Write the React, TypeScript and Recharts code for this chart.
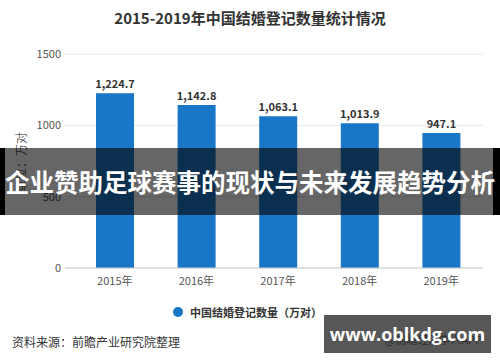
import React from 'react';
import { BarChart, Bar, XAxis, YAxis, CartesianGrid, LabelList } from 'recharts';

const years = ['2015年', '2016年', '2017年', '2018年', '2019年'];
const marriages = [1224.7, 1142.8, 1063.1, 1013.9, 947.1];
const yTicks = [0, 500, 1000, 1500];

const chartTitle = '2015-2019年中国结婚登记数量统计情况';
const seriesName = '中国结婚登记数量（万对）';
const unitLabel = '单位：万对';
const sourceText = '资料来源：前瞻产业研究院整理';
const creditText = '@前瞻经济学人APP';
const bannerText = '企业赞助足球赛事的现状与未来发展趋势分析';
const watermarkText = 'www.oblkdg.com';

const data = years.map((y, i) => ({ year: y, value: marriages[i] }));

const FONT = '"Noto Sans CJK SC", "Noto Sans", sans-serif';
const BLUE = '#1a76c6';

const fmt = (v: number) =>
  v.toLocaleString('en-US', { minimumFractionDigits: 1, maximumFractionDigits: 1 });

export default function App() {
  return (
    <div style={{ position: 'fixed', left: 0, top: 0, width: 500, height: 362, background: '#fff', fontFamily: FONT, overflow: 'hidden' }}>
      <BarChart width={500} height={362} data={data} margin={{ top: 54, right: 17, bottom: 64, left: 0 }}>
        <text x={250} y={17} textAnchor="middle" dominantBaseline="central" fontSize={15} fontWeight="bold" fill="#333" fontFamily={FONT}>
          {chartTitle}
        </text>
        <text
          x={20}
          y={162}
          transform="rotate(-90 20 162)"
          textAnchor="middle"
          dominantBaseline="central"
          fontSize={12}
          fill="#666"
          fontFamily={FONT}
        >
          {unitLabel}
        </text>
        <CartesianGrid vertical={false} stroke="#e6e6e6" />
        <XAxis
          dataKey="year"
          tickLine={false}
          axisLine={{ stroke: '#ccc' }}
          padding={{ left: 9, right: 1 }}
          tick={{ fontSize: 11, fill: '#555', fontFamily: FONT }}
          tickMargin={3}
          height={30}
        />
        <YAxis
          domain={[0, 1500]}
          ticks={yTicks}
          axisLine={false}
          tickLine={false}
          tickSize={2}
          tickMargin={2}
          width={65}
          tick={{ fontSize: 11, fill: '#555', fontFamily: FONT }}
        />
        <Bar dataKey="value" fill={BLUE} barSize={38} isAnimationActive={false}>
          <LabelList
            dataKey="value"
            position="top"
            offset={5}
            formatter={(v: any) => fmt(Number(v))}
            style={{ fontSize: 11, fontWeight: 'bold', fill: '#333', fontFamily: FONT }}
          />
        </Bar>
      </BarChart>

      {/* legend */}
      <div style={{ position: 'absolute', left: 173, top: 305, display: 'flex', alignItems: 'center' }}>
        <div style={{ width: 10, height: 10, borderRadius: 5, background: BLUE }} />
        <span style={{ marginLeft: 7, fontSize: 11, fontWeight: 'bold', color: '#333', lineHeight: '14px' }}>{seriesName}</span>
      </div>

      {/* footer */}
      <div style={{ position: 'absolute', left: 12, top: 334, fontSize: 12, color: '#333', lineHeight: '16px' }}>{sourceText}</div>
      <div style={{ position: 'absolute', left: 385, top: 331, fontSize: 11, color: '#333', lineHeight: '16px' }}>{creditText}</div>

      {/* banner overlay */}
      <div style={{ position: 'absolute', left: 0, top: 148, width: 500, height: 67, background: 'rgba(0,0,0,0.6)' }} />
      <div style={{ position: 'absolute', left: 0, top: 148, width: 5, height: 67, background: '#000' }} />
      <div style={{ position: 'absolute', left: 493, top: 148, width: 7, height: 67, background: '#000' }} />
      <div
        style={{
          position: 'absolute',
          left: -20,
          top: 148,
          width: 540,
          height: 67,
          display: 'flex',
          alignItems: 'center',
          justifyContent: 'center',
          color: '#fff',
          fontSize: 24.5,
          fontWeight: 'bold',
          whiteSpace: 'nowrap',
        }}
      >
        {bannerText}
      </div>

      {/* watermark box */}
      <div
        style={{
          position: 'absolute',
          left: 324,
          top: 315,
          width: 167,
          height: 38,
          background: 'rgba(40,40,40,0.78)',
          display: 'flex',
          alignItems: 'center',
          justifyContent: 'center',
          color: '#fff',
          fontSize: 18,
          fontWeight: 'bold',
          whiteSpace: 'nowrap',
          fontFamily: '"Open Sans", "Noto Sans", sans-serif',
        }}
      >
        {watermarkText}
      </div>
    </div>
  );
}
